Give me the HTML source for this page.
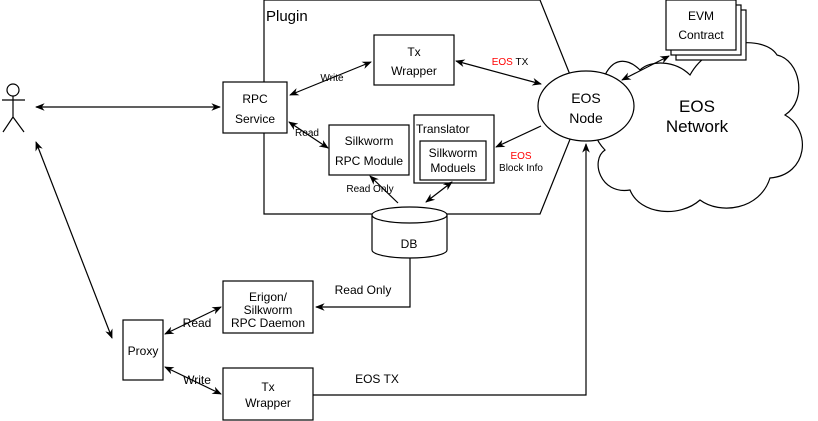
<!DOCTYPE html>
<html><head><style>body{margin:0;background:#fff}svg{display:block}text{font-family:"Liberation Sans",Arial,sans-serif;fill:#000}</style></head><body>
<svg width="818" height="421" viewBox="0 0 818 421" xmlns="http://www.w3.org/2000/svg">
<defs>
<marker id="a" viewBox="0 0 10 10" refX="9" refY="5" markerWidth="8" markerHeight="8" orient="auto-start-reverse"><path d="M0,1 L10,5 L0,9 L3,5 Z" fill="#000"/></marker>
</defs>
<g stroke="#000" fill="none" stroke-width="1.2">
<path d="M605,75 C615,55 630,60 640,70 C650,60 675,60 690,75 C710,38 765,35 777,55 C800,60 808,100 785,115 C812,130 808,175 770,178 C760,210 720,215 700,200 C680,218 640,215 630,190 C600,195 590,160 605,150 C585,130 590,95 610,95 C600,85 600,80 605,75 Z" fill="#fff"/>
<polygon points="264,0 540,0 583,107 540,214 264,214" fill="#fff"/>
<rect x="676" y="10" width="70" height="50" fill="#fff"/>
<rect x="671" y="5" width="70" height="50" fill="#fff"/>
<rect x="666" y="0" width="70" height="50" fill="#fff"/>
<ellipse cx="586" cy="106" rx="48" ry="35" fill="#fff"/>
<rect x="374" y="35" width="80" height="50" fill="#fff"/>
<rect x="223" y="82" width="64" height="51" fill="#fff"/>
<rect x="329" y="125" width="80" height="50" fill="#fff"/>
<rect x="414" y="115" width="80" height="68" fill="#fff"/>
<rect x="420" y="141" width="66" height="39" fill="#fff"/>
<path d="M372,215 L372,250 A37.5,8 0 0 0 447,250 L447,215 A37.5,8 0 0 0 372,215 A37.5,8 0 0 0 447,215" fill="#fff"/>
<rect x="123" y="320" width="40" height="60" fill="#fff"/>
<rect x="223" y="281" width="90" height="52" fill="#fff"/>
<rect x="223" y="368" width="90" height="52" fill="#fff"/>
<circle cx="13" cy="90" r="6"/>
<path d="M13,96 V117 M2,100 H25 M13,117 L3,132 M13,117 L24,132"/>
<line x1="36" y1="107" x2="220" y2="107" marker-start="url(#a)" marker-end="url(#a)"/>
<line x1="290" y1="95" x2="371" y2="62" marker-start="url(#a)" marker-end="url(#a)"/>
<line x1="289" y1="122" x2="328" y2="148" marker-start="url(#a)" marker-end="url(#a)"/>
<line x1="456" y1="61" x2="541" y2="84" marker-start="url(#a)" marker-end="url(#a)"/>
<line x1="541" y1="126" x2="496" y2="147" marker-end="url(#a)"/>
<line x1="398" y1="203" x2="370" y2="176" marker-end="url(#a)"/>
<line x1="426" y1="202" x2="452" y2="182" marker-start="url(#a)" marker-end="url(#a)"/>
<line x1="622" y1="80" x2="669" y2="56" marker-start="url(#a)" marker-end="url(#a)"/>
<line x1="36" y1="142" x2="112" y2="338" marker-start="url(#a)" marker-end="url(#a)"/>
<line x1="165" y1="334" x2="221" y2="307" marker-start="url(#a)" marker-end="url(#a)"/>
<line x1="165" y1="367" x2="221" y2="394" marker-start="url(#a)" marker-end="url(#a)"/>
<polyline points="410,258 410,307 316,307" marker-end="url(#a)"/>
<polyline points="313,395 586,395 586,144" marker-end="url(#a)"/>
</g>
<g font-size="12" text-anchor="middle">
<text x="266" y="21" font-size="15" text-anchor="start">Plugin</text>
<text x="414" y="56">Tx</text><text x="414" y="75">Wrapper</text>
<text x="255" y="103">RPC</text><text x="255" y="123">Service</text>
<text x="369" y="145">Silkworm</text><text x="369" y="165">RPC Module</text>
<text x="416" y="133" text-anchor="start">Translator</text>
<text x="453" y="157">Silkworm</text><text x="453" y="172">Moduels</text>
<text x="586" y="103" font-size="14">EOS</text><text x="586" y="123" font-size="14">Node</text>
<text x="697" y="112" font-size="17">EOS</text><text x="697" y="132" font-size="17">Network</text>
<text x="701" y="20">EVM</text><text x="701" y="39">Contract</text>
<text x="409" y="248">DB</text>
<text x="143" y="355">Proxy</text>
<text x="268" y="301">Erigon/</text><text x="268" y="314">Silkworm</text><text x="268" y="327">RPC Daemon</text>
<text x="268" y="391">Tx</text><text x="268" y="407">Wrapper</text>
<text x="363" y="294">Read Only</text>
<text x="377" y="383">EOS TX</text>
<text x="197" y="327">Read</text>
<text x="197" y="384">Write</text>
</g>
<g font-size="10" text-anchor="middle">
<text x="332" y="81">Write</text>
<text x="307" y="136">Read</text>
<text x="370" y="192">Read Only</text>
<text x="510" y="65"><tspan style="fill:#f00">EOS</tspan> TX</text>
<text x="521" y="159" style="fill:#f00">EOS</text>
<text x="521" y="171">Block Info</text>
</g>
</svg>
</body></html>
